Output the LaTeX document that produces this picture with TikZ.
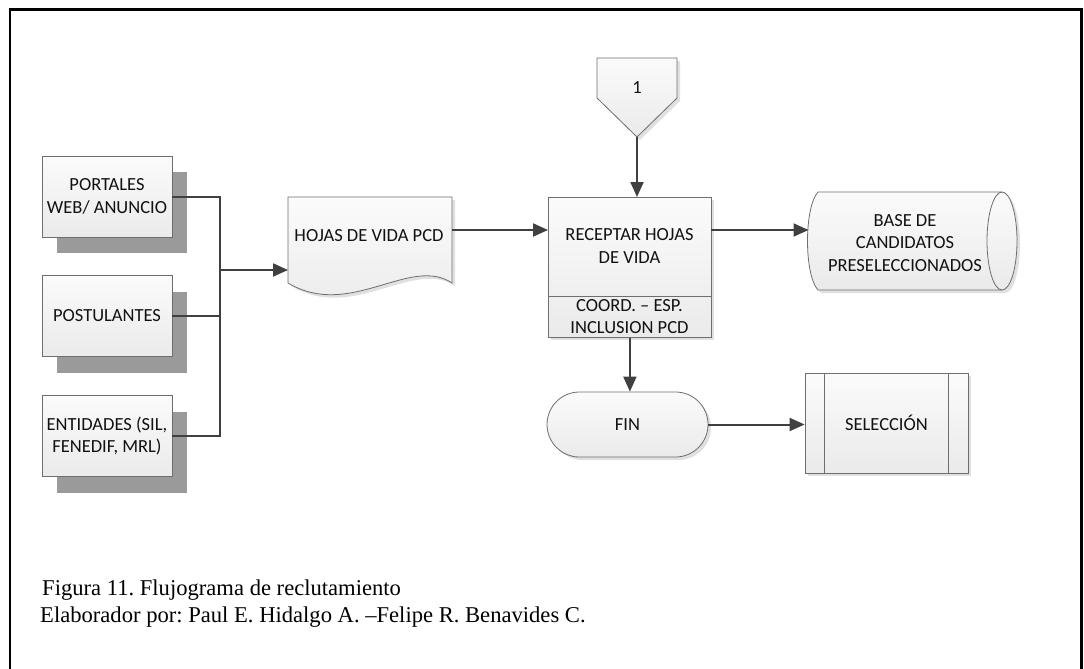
\documentclass[tikz,border=0pt]{standalone}
\usepackage{fontspec}
\setmainfont{Carlito}
\newfontfamily\capfont{Liberation Serif}
\usetikzlibrary{arrows.meta,shadows,calc}

\definecolor{edge}{HTML}{6E6E6E}
\definecolor{conn}{HTML}{404040}
\definecolor{fillA}{HTML}{FBFBFB}
\definecolor{fillB}{HTML}{EAEAEA}
\definecolor{shade}{HTML}{9A9A9A}
\definecolor{txt}{HTML}{111111}

\begin{document}
\frenchspacing
\begin{tikzpicture}[x=1pt,y=-1pt,
  shapebox/.style={draw=edge, line width=0.8pt, top color=fillA, bottom color=fillB},
  soft/.style={drop shadow={shadow xshift=3pt, shadow yshift=-3pt, fill=black!12, opacity=1}},
  lbl/.style={text=txt, font=\fontsize{18.5}{22.5}\selectfont, align=center, inner sep=0pt},
  src/.style={shapebox, lbl, minimum width=130pt, minimum height=81pt,
    general shadow={fill=shade, shadow xshift=15pt, shadow yshift=-16pt}},
  link/.style={draw=conn, line width=2pt},
  flow/.style={link, -{Triangle[length=15pt,width=13pt]}},
  caption/.style={anchor=base west, inner sep=0pt, text=black,
    font=\capfont\fontsize{22.6}{26}\selectfont}
]
\useasboundingbox (0,0) rectangle (1084,669);

% outer frame
\draw[line width=2.5pt] (10,670) -- (10,9.5) -- (1081.5,9.5) -- (1081.5,670);

% sources with stacked shadows
\node[src] (web) at (107,196.5) {PORTALES\\WEB/ ANUNCIO};
\node[src] (pos) at (107,316) {POSTULANTES};
\node[src] (ent) at (107,436) {ENTIDADES (SIL,\\FENEDIF, MRL)};

% document shape
\path[shapebox, soft] (288,197) -- (452,197) -- (452,283)
  .. controls (410,255) and (350,320) .. (288,283) -- cycle;
\node[lbl] (doc) at (369,236) {HOJAS DE VIDA PCD};
\coordinate (docin) at (288,270);
\coordinate (docout) at (452,230);

% process with responsible lane
\node[shapebox, soft, minimum width=163pt, minimum height=140pt, anchor=north west] (rec) at (548,197) {};
\draw[draw=edge, line width=0.8pt] (548,296) -- (711,296);
\node[lbl] (rectop) at (629.5,246) {RECEPTAR HOJAS\\DE VIDA};
\node[lbl] (recbot) at (629.5,316.5) {COORD. – ESP.\\INCLUSION PCD};
\coordinate (recout) at (711,230);

% off-page connector
\path[shapebox, soft] (597,58) -- (677,58) -- (677,98) -- (637,137) -- (597,98) -- cycle;
\node[lbl] (one) at (637,88) {1};
\coordinate (oneout) at (637,137);

% stored data
\path[shapebox, soft] (818,192) -- (1002,192)
  arc[start angle=-90, end angle=90, x radius=15, y radius=49]
  -- (818,290) .. controls (804,275) and (804,207) .. (818,192) -- cycle;
\draw[draw=edge, line width=0.8pt] (1002,192) arc[start angle=-90, end angle=-270, x radius=15, y radius=49];
\node[lbl] (base) at (905,243) {BASE DE\\CANDIDATOS\\PRESELECCIONADOS};
\coordinate (basein) at (808.5,230);

% terminator
\node[shapebox, soft, lbl, rounded corners=32.5pt, minimum width=161pt, minimum height=65pt] (fin) at (627.5,424.5) {FIN};

% predefined process
\node[shapebox, soft, lbl, minimum width=163pt, minimum height=100pt] (sel) at (886.5,423) {SELECCIÓN};
\draw[draw=edge, line width=0.8pt] ($(sel.north west)+(20,0)$) -- ($(sel.south west)+(20,0)$);
\draw[draw=edge, line width=0.8pt] ($(sel.north east)+(-20,0)$) -- ($(sel.south east)+(-20,0)$);

% connectors
\coordinate (bus) at (220,270);
\draw[link] (web.east) -- (web.east -| bus) -- (ent.east -| bus) -- (ent.east);
\draw[link] (pos.east) -- (pos.east -| bus);
\draw[flow] (bus) -- (docin);
\draw[flow] (docout) -- (docout -| rec.west);
\draw[flow] (oneout) -- (oneout |- rec.north);
\draw[flow] (recout) -- (basein);
\draw[flow] (rec.south) -- (rec.south |- fin.north);
\draw[flow] (fin.east) -- (fin.east -| sel.west);

% caption
\node[caption] (cap1) at (42,595) {Figura 11. Flujograma de reclutamiento};
\node[caption] (cap2) at (40,622.5) {Elaborador por: Paul E. Hidalgo A. –Felipe R. Benavides C.};
\end{tikzpicture}
\end{document}
